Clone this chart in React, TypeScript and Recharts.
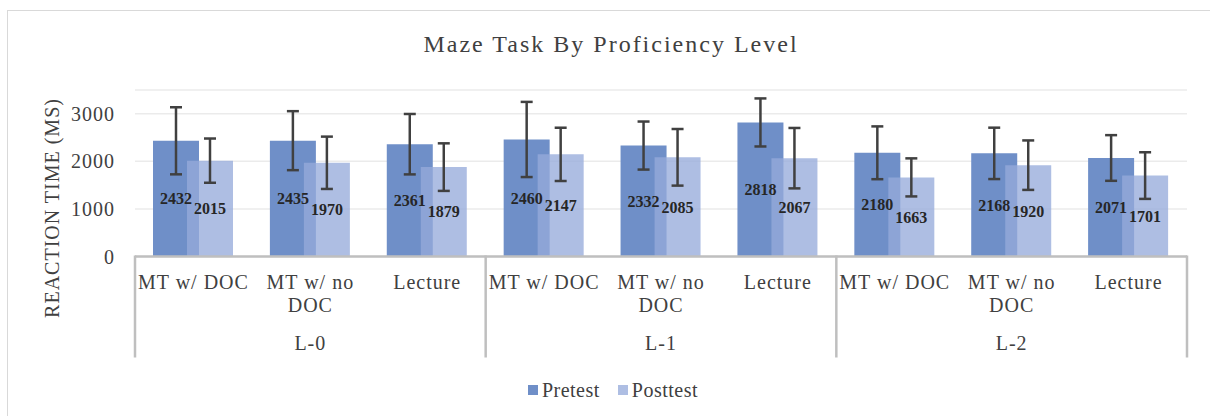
import React from 'react';
import { BarChart, Bar, XAxis, YAxis, CartesianGrid, ErrorBar, LabelList, Legend } from 'recharts';

const groups = ['L-0', 'L-1', 'L-2'];
const conditions = ['MT w/ DOC', 'MT w/ no DOC', 'Lecture'];
const conditionTickLines = [['MT w/ DOC'], ['MT w/ no', 'DOC'], ['Lecture']];
const seriesNames = ['Pretest', 'Posttest'];
const pretest = [2432, 2435, 2361, 2460, 2332, 2818, 2180, 2168, 2071];
const posttest = [2015, 1970, 1879, 2147, 2085, 2067, 1663, 1920, 1701];
const pretestErr = [705, 620, 635, 790, 505, 505, 555, 540, 480];
const posttestErr = [465, 550, 500, 560, 595, 635, 400, 520, 490];
const yTicks = [0, 1000, 2000, 3000];

const data = groups.flatMap((g, gi) =>
  conditions.map((c, ci) => {
    const i = gi * 3 + ci;
    return {
      key: `${g} ${c}`,
      group: g,
      gi,
      ci,
      pre: pretest[i],
      post: posttest[i],
      preErr: pretestErr[i],
      postErr: posttestErr[i],
    };
  })
);

const W = 1210;
const H = 416;
const M = { top: 90, right: 23, bottom: 59.5, left: 0 };
const Y_W = 135;
const X_H = 100;
const PLOT_W = W - M.left - M.right - Y_W;
const BAND = PLOT_W / data.length;

const FONT = '"Liberation Serif", "Times New Roman", Times, serif';
const TEXT = '#404040';
const AXIS = '#BFBFBF';
const PRE = '#6F8FC8';
const POST = 'rgb(149,170,219)';
const POST_OP = 0.77;
const COLORS: Record<string, { c: string; o: number }> = {
  Pretest: { c: PRE, o: 1 },
  Posttest: { c: POST, o: POST_OP },
};

const CategoryTick = (props: any) => {
  const { x, y, index } = props;
  const d = data[index];
  if (!d) return null;
  const lines = conditionTickLines[d.ci];
  return (
    <g>
      {lines.map((l, li) => (
        <text
          key={li}
          x={x}
          y={y + 32 + li * 23}
          textAnchor="middle"
          fontFamily={FONT}
          fontSize={20}
          fill={TEXT}
          style={{ letterSpacing: 1 }}
        >
          {l}
        </text>
      ))}
      {d.ci === 1 && (
        <text
          x={x}
          y={y + 93}
          textAnchor="middle"
          fontFamily={FONT}
          fontSize={20}
          fill={TEXT}
          style={{ letterSpacing: 1 }}
        >
          {d.group}
        </text>
      )}
      {d.ci === 0 && (
        <line x1={x - BAND / 2} x2={x - BAND / 2} y1={y - 1} y2={y + 101} stroke={AXIS} strokeWidth={2.5} />
      )}
      {index === data.length - 1 && (
        <line x1={x + BAND / 2} x2={x + BAND / 2} y1={y - 1} y2={y + 101} stroke={AXIS} strokeWidth={2.5} />
      )}
    </g>
  );
};

const YLabel = () => (
  <text
    x={52}
    y={208}
    transform="rotate(-90, 52, 208)"
    textAnchor="middle"
    dominantBaseline="central"
    fontFamily={FONT}
    fontSize={20}
    fill={TEXT}
    style={{ letterSpacing: 1 }}
  >
    REACTION TIME (MS)
  </text>
);

const LegendContent = () => (
  <div
    style={{
      display: 'flex',
      justifyContent: 'center',
      alignItems: 'center',
      fontFamily: FONT,
      fontSize: 20,
      color: TEXT,
      lineHeight: '24px',
      letterSpacing: 0.5,
    }}
  >
    {seriesNames.map((name, i) => (
      <span key={name} style={{ display: 'inline-flex', alignItems: 'center', marginRight: i === 0 ? 18 : 0 }}>
        <span
          style={{
            display: 'inline-block',
            width: 10,
            height: 10,
            background: COLORS[name].c,
            opacity: COLORS[name].o,
            marginRight: 4,
          }}
        />
        {name}
      </span>
    ))}
  </div>
);

export default function App() {
  return (
    <div style={{ position: 'absolute', left: 0, top: 0, width: W, height: H, background: '#fff', overflow: 'hidden' }}>
      <BarChart width={W} height={H} data={data} margin={M} barSize={46} barGap={-12}>
        <CartesianGrid vertical={false} stroke="#EBEBEB" strokeWidth={1.5} />
        <XAxis
          dataKey="key"
          interval={0}
          height={X_H}
          tickSize={0}
          tickMargin={0}
          tickLine={false}
          axisLine={{ stroke: AXIS, strokeWidth: 2.5 }}
          tick={<CategoryTick />}
        />
        <YAxis
          width={Y_W}
          domain={[0, 3500]}
          ticks={yTicks}
          axisLine={false}
          tickLine={false}
          tickSize={0}
          tickMargin={20}
          tick={{ fontSize: 20, fill: TEXT, fontFamily: FONT, style: { letterSpacing: 1 } } as any}
          label={<YLabel />}
        />
        <Legend
          layout="horizontal"
          verticalAlign="middle"
          align="center"
          content={<LegendContent />}
          wrapperStyle={{ top: 378, left: 8, width: W, height: 26 }}
        />
        <Bar dataKey="pre" name={seriesNames[0]} fill={PRE} isAnimationActive={false}>
          <ErrorBar dataKey="preErr" width={6} stroke="#404040" strokeWidth={2.5} direction="y" />
          <LabelList
            dataKey="pre"
            position="center"
            fill="#262626"
            fontSize={16}
            fontWeight="bold"
            fontFamily={FONT}
          />
        </Bar>
        <Bar dataKey="post" name={seriesNames[1]} fill={POST} fillOpacity={POST_OP} isAnimationActive={false}>
          <ErrorBar dataKey="postErr" width={6} stroke="#404040" strokeWidth={2.5} direction="y" />
          <LabelList
            dataKey="post"
            position="center"
            fill="#262626"
            fontSize={16}
            fontWeight="bold"
            fontFamily={FONT}
          />
        </Bar>
      </BarChart>
      <svg
        width={W}
        height={H}
        style={{ position: 'absolute', left: 0, top: 0, pointerEvents: 'none' }}
      >
        <line x1={7.5} x2={7.5} y1={10} y2={H} stroke="#D9D9D9" strokeWidth={1} />
        <line x1={7} x2={W} y1={10.5} y2={10.5} stroke="#D9D9D9" strokeWidth={1} />
        <text
          x={611}
          y={52}
          textAnchor="middle"
          fontFamily={FONT}
          fontSize={24}
          fill={TEXT}
          style={{ letterSpacing: 2 }}
        >
          Maze Task By Proficiency Level
        </text>
      </svg>
    </div>
  );
}
